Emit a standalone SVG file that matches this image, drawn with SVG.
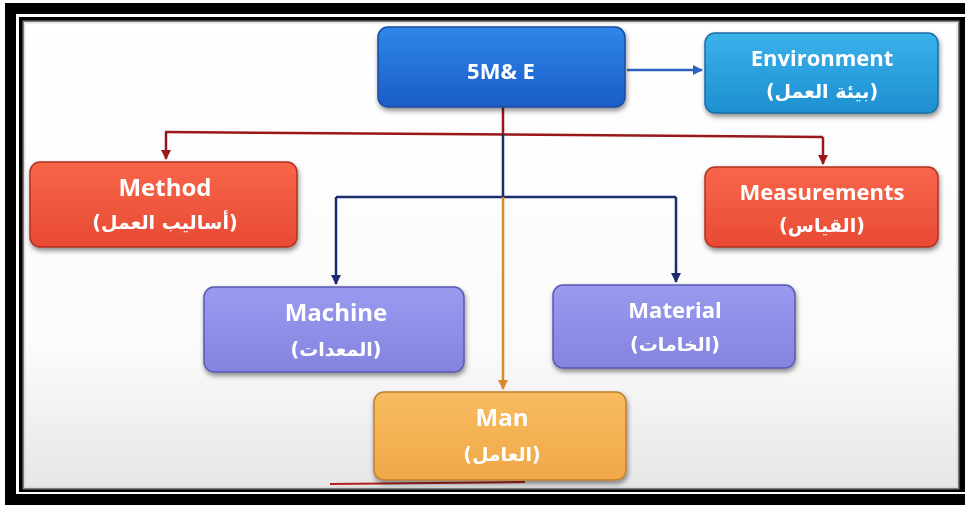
<svg xmlns="http://www.w3.org/2000/svg" width="965" height="505" viewBox="0 0 965 505">
<style>
.t{font-family:"Open Sans","Noto Sans","DejaVu Sans",sans-serif;font-weight:bold;fill:#ffffff;text-anchor:middle;font-size:22px}
.big{font-size:24px}
.ar{font-family:"DejaVu Sans","Noto Sans",sans-serif;font-weight:bold;fill:#ffffff;text-anchor:middle;font-size:19px}
.box{stroke-width:1.5}
.red{fill:none;stroke:#9a1818;stroke-width:2.5}
.navy{fill:none;stroke:#1c2a6e;stroke-width:2.5}
.org{fill:none;stroke:#d98a2a;stroke-width:2.5}
.blu{fill:none;stroke:#2a62c0;stroke-width:2.5}
</style>
<defs>
<filter id="sh" x="-10%" y="-10%" width="120%" height="130%">
<feDropShadow dx="1" dy="3" stdDeviation="2.5" flood-color="#000" flood-opacity="0.45"/>
</filter>
<linearGradient id="gBlue" x1="0" y1="0" x2="0" y2="1"><stop offset="0" stop-color="#2f86e8"/><stop offset="1" stop-color="#1a5cc8"/></linearGradient>
<linearGradient id="gCyan" x1="0" y1="0" x2="0" y2="1"><stop offset="0" stop-color="#3ab2ea"/><stop offset="1" stop-color="#1e8fd0"/></linearGradient>
<linearGradient id="gRed" x1="0" y1="0" x2="0" y2="1"><stop offset="0" stop-color="#f8664a"/><stop offset="1" stop-color="#e84a34"/></linearGradient>
<linearGradient id="gPur" x1="0" y1="0" x2="0" y2="1"><stop offset="0" stop-color="#9a9af0"/><stop offset="1" stop-color="#8484e0"/></linearGradient>
<linearGradient id="gOr" x1="0" y1="0" x2="0" y2="1"><stop offset="0" stop-color="#f8bc60"/><stop offset="1" stop-color="#f0a848"/></linearGradient>
<linearGradient id="bg" x1="0" y1="0" x2="0" y2="1"><stop offset="0" stop-color="#ffffff"/><stop offset="0.7" stop-color="#fbfbfb"/><stop offset="1" stop-color="#e6e6e6"/></linearGradient>
<marker id="aR" viewBox="0 0 10 10" refX="9" refY="5" markerWidth="4" markerHeight="4" orient="auto"><path d="M0,0L10,5L0,10z" fill="#9a1818"/></marker>
<marker id="aN" viewBox="0 0 10 10" refX="9" refY="5" markerWidth="4" markerHeight="4" orient="auto"><path d="M0,0L10,5L0,10z" fill="#1c2a6e"/></marker>
<marker id="aO" viewBox="0 0 10 10" refX="9" refY="5" markerWidth="4" markerHeight="4" orient="auto"><path d="M0,0L10,5L0,10z" fill="#d98a2a"/></marker>
<marker id="aB" viewBox="0 0 10 10" refX="9" refY="5" markerWidth="4" markerHeight="4" orient="auto"><path d="M0,0L10,5L0,10z" fill="#2a62c0"/></marker>
</defs>
<rect x="0" y="0" width="965" height="505" fill="#ffffff"/>
<rect x="5" y="3" width="960" height="502" fill="#000000"/>
<rect x="16" y="14" width="949" height="480" fill="#ffffff"/>
<rect x="19" y="17" width="946" height="475" fill="#000000"/>
<rect x="24" y="22" width="934" height="466" fill="url(#bg)"/>
<rect x="24" y="22" width="934" height="466" fill="none" stroke="#cfcfcf" stroke-width="3" opacity="0.6"/>
<line x1="330" y1="484" x2="525" y2="482" stroke="#b02020" stroke-width="2"/>

<g id="connectors">
<path class="blu" d="M627,70 L702,70" marker-end="url(#aB)"/>
<path class="red" d="M503,107 L503,134"/>
<path class="red" d="M165,132 L823,137"/>
<path class="red" d="M166,132 L166,159" marker-end="url(#aR)"/>
<path class="red" d="M823,137 L823,164" marker-end="url(#aR)"/>
<path class="navy" d="M503,134 L503,197"/>
<path class="navy" d="M336,197 L676,197"/>
<path class="navy" d="M336,197 L336,284" marker-end="url(#aN)"/>
<path class="navy" d="M676,197 L676,282" marker-end="url(#aN)"/>
<path class="org" d="M503,197 L503,389" marker-end="url(#aO)"/>
</g>

<g id="n5me" filter="url(#sh)">
<rect class="box" x="378" y="27" width="247" height="80" rx="10" fill="url(#gBlue)" stroke="#1b4aa0"/>
<text class="t" x="501" y="79">5M&amp; E</text>
</g>
<g id="environment" filter="url(#sh)">
<rect class="box" x="705" y="33" width="233" height="80" rx="10" fill="url(#gCyan)" stroke="#1a6ea8"/>
<text class="t" x="822" y="66">Environment</text>
<text class="ar" x="822" y="98">(بيئة العمل)</text>
</g>
<g id="method" filter="url(#sh)">
<rect class="box" x="30" y="162" width="267" height="85" rx="10" fill="url(#gRed)" stroke="#b03020"/>
<text class="t big" x="165" y="196">Method</text>
<text class="ar" x="165" y="229">(أساليب العمل)</text>
</g>
<g id="measurements" filter="url(#sh)">
<rect class="box" x="705" y="167" width="233" height="80" rx="10" fill="url(#gRed)" stroke="#b03020"/>
<text class="t" x="822" y="200">Measurements</text>
<text class="ar" x="822" y="232">(القياس)</text>
</g>
<g id="machine" filter="url(#sh)">
<rect class="box" x="204" y="287" width="260" height="85" rx="10" fill="url(#gPur)" stroke="#5a5ab0"/>
<text class="t big" x="336" y="321">Machine</text>
<text class="ar" x="336" y="356">(المعدات)</text>
</g>
<g id="material" filter="url(#sh)">
<rect class="box" x="553" y="285" width="242" height="83" rx="10" fill="url(#gPur)" stroke="#5a5ab0"/>
<text class="t" x="675" y="318">Material</text>
<text class="ar" x="675" y="351">(الخامات)</text>
</g>
<g id="man" filter="url(#sh)">
<rect class="box" x="374" y="392" width="252" height="88" rx="10" fill="url(#gOr)" stroke="#c08030"/>
<text class="t big" x="502" y="426">Man</text>
<text class="ar" x="502" y="461">(العامل)</text>
</g>
</svg>
